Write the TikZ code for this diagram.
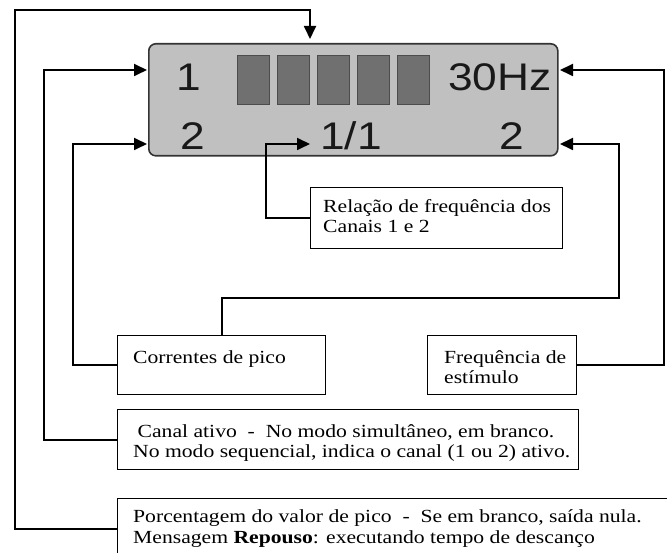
\documentclass[tikz,border=0pt]{standalone}
\usepackage{fontspec}
\setmainfont{Liberation Serif}[FakeStretch=1.17]
\newfontfamily\dispfont{Liberation Sans}[FakeStretch=1.15]
\usetikzlibrary{arrows.meta}
\definecolor{lcdgray}{HTML}{C0C0C0}
\definecolor{bargray}{HTML}{707070}
\begin{document}
\begin{tikzpicture}[x=1pt,y=-1pt,
  conn/.style={line width=1.8pt, draw=black},
  arr/.style={conn,-{Triangle[length=13pt,width=12pt]}},
  box/.style={draw=black, line width=1.3pt, fill=white, rectangle, inner sep=0pt, anchor=north west},
  txt/.style={inner sep=0pt, anchor=base west, font=\fontsize{18.5}{21}\selectfont},
  lcd/.style={inner sep=0pt, anchor=base, font=\dispfont\fontsize{38.5}{40}\selectfont, text=black!90},
  bar/.style={draw=black!70, line width=0.8pt, fill=bargray, inner sep=0pt, anchor=north west, minimum width=32pt, minimum height=49pt}]
\useasboundingbox (0,0) rectangle (667,553);
% display
\node[draw=black!80, line width=1.6pt, fill=lcdgray, rounded corners=7pt, minimum width=409pt, minimum height=112pt, anchor=north west, inner sep=0pt] (disp) at (148,43) {};
\node[bar] (b1) at (237,55) {};
\node[bar] (b2) at (277,55) {};
\node[bar] (b3) at (317,55) {};
\node[bar] (b4) at (357,55) {};
\node[bar] (b5) at (397,55) {};
\node[lcd] (t1) at (189,91) {1};
\node[lcd] (t30) at (500,91) {30Hz};
\node[lcd] (t2l) at (193,150) {2};
\node[lcd] (t11) at (351,150) {1/1};
\node[lcd] (t2r) at (512,150) {2};
% boxes
\node[box, minimum width=252pt, minimum height=61pt] (rel) at (310,187) {};
\node[box, minimum width=208pt, minimum height=59pt] (cor) at (117,335) {};
\node[box, minimum width=149pt, minimum height=59pt] (freq) at (427,335) {};
\node[box, minimum width=461pt, minimum height=60pt] (canal) at (117,409) {};
\node[box, minimum width=600pt, minimum height=60pt] (pct) at (117,498) {};
% texts
\node[txt] (relA) at (323,212.6) {Relação de frequência dos};
\node[txt] (relB) at (323,233) {Canais 1 e 2};
\node[txt] (corA) at (133,363) {Correntes de pico};
\node[txt] (frA) at (444,363) {Frequência de};
\node[txt] (frB) at (444,383.5) {estímulo};
\node[txt] (caA) at (137.5,437) {Canal ativo\ \ -\ \ No modo simultâneo, em branco.};
\node[txt] (caB) at (133,457) {No modo sequencial, indica o canal (1 ou 2) ativo.};
\node[txt] (pcA) at (133,522) {Porcentagem do valor de pico\ \ -\ \ Se em branco, saída nula.};
\node[txt] (pcB) at (133,543) {Mensagem \textbf{Repouso}: executando tempo de descanço};
% arrow tips
\coordinate (aTop) at (310,39);
\coordinate (a1) at (147,70);
\coordinate (a2) at (147,144);
\coordinate (a11) at (310,144);
\coordinate (a30) at (560,70);
\coordinate (a2r) at (560,144);
% connectors
\draw[arr] (pct.west) -| (15,10) -| (aTop);
\draw[arr] (canal.west) -| (44,70) -- (a1);
\draw[arr] (cor.west) -| (73,144) -- (a2);
\draw[arr] (cor.north) |- (619,298) |- (a2r);
\draw[arr] (freq.east) -| (664,70) -- (a30);
\draw[arr] (rel.west) -| (266,144) -- (a11);
\end{tikzpicture}
\end{document}
